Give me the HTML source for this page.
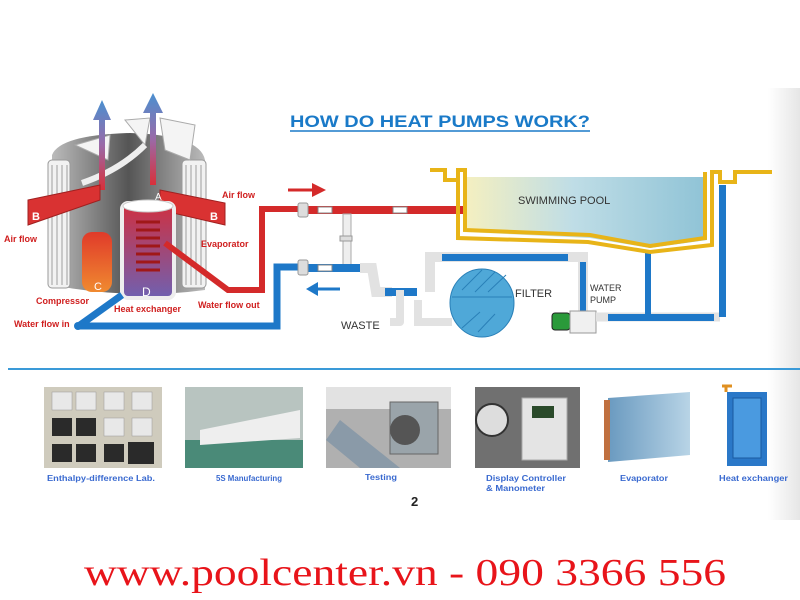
<!DOCTYPE html>
<html><head><meta charset="utf-8"><style>
html,body{margin:0;padding:0;background:#fff;width:800px;height:600px;overflow:hidden}
svg{display:block}
</style></head><body>
<svg width="800" height="600" viewBox="0 0 800 600" xmlns="http://www.w3.org/2000/svg" font-family="Liberation Sans, sans-serif">
<defs>
<linearGradient id="pool" x1="0" x2="1"><stop offset="0" stop-color="#f6f0bf"/><stop offset="0.45" stop-color="#bfdde6"/><stop offset="1" stop-color="#8fc3d6"/></linearGradient>
<linearGradient id="side" x1="0" x2="1"><stop offset="0" stop-color="#fff"/><stop offset="1" stop-color="#e6e6e6"/></linearGradient>
<linearGradient id="arr" x1="0" y1="1" x2="0" y2="0"><stop offset="0" stop-color="#d8303a"/><stop offset="0.5" stop-color="#9a6aa8"/><stop offset="1" stop-color="#4a90d0"/></linearGradient>
<linearGradient id="comp" x1="0" y1="0" x2="0" y2="1"><stop offset="0" stop-color="#e03a2a"/><stop offset="1" stop-color="#f08a30"/></linearGradient>
<linearGradient id="cyl" x1="0" x2="1"><stop offset="0" stop-color="#bbb"/><stop offset="0.5" stop-color="#555"/><stop offset="1" stop-color="#bbb"/></linearGradient>
<linearGradient id="hx" x1="0" y1="0" x2="0" y2="1"><stop offset="0" stop-color="#d03040"/><stop offset="1" stop-color="#7060b0"/></linearGradient>
<linearGradient id="evap" x1="0" x2="1"><stop offset="0" stop-color="#6a9ac0"/><stop offset="1" stop-color="#b8d4e6"/></linearGradient>
</defs>
<rect x="768" y="88" width="32" height="432" fill="url(#side)"/>
<!-- title -->
<text x="290" y="127" font-size="17" font-weight="bold" fill="#1a7ac8" textLength="300" lengthAdjust="spacingAndGlyphs">HOW DO HEAT PUMPS WORK?</text>
<line x1="290" y1="131" x2="590" y2="131" stroke="#1a7ac8" stroke-width="1.5"/>
<!-- heat pump unit -->
<g>
<path d="M52 155 Q60 135 130 133 Q200 135 205 160 L205 290 Q130 300 52 285 Z" fill="url(#cyl)"/>
<g stroke="#999" stroke-width="1" fill="#f2f2f2">
<rect x="48" y="160" width="22" height="128" rx="4"/>
<rect x="182" y="160" width="24" height="128" rx="4"/>
</g>
<g stroke="#888" stroke-width="0.8">
<line x1="52" y1="165" x2="52" y2="285"/><line x1="57" y1="165" x2="57" y2="285"/><line x1="62" y1="165" x2="62" y2="285"/><line x1="67" y1="165" x2="67" y2="285"/>
<line x1="186" y1="165" x2="186" y2="285"/><line x1="191" y1="165" x2="191" y2="285"/><line x1="196" y1="165" x2="196" y2="285"/><line x1="201" y1="165" x2="201" y2="285"/>
</g>
<path d="M75 145 L110 135 L108 160 Z M160 118 L195 125 L190 160 L165 150 Z M125 120 L150 118 L145 145 Z" fill="#f4f4f4" stroke="#aaa"/>
<path d="M82 183 Q120 170 145 145" stroke="#eee" stroke-width="6" fill="none"/>
<path d="M99 190 L99 120 L93 120 L102 100 L111 120 L105 120 L105 190 Z" fill="url(#arr)"/>
<path d="M150 185 L150 113 L143 113 L153 93 L163 113 L156 113 L156 185 Z" fill="url(#arr)"/>
<path d="M28 200 L100 185 L100 200 L28 225 Z" fill="#d93232" stroke="#a02020"/>
<text x="32" y="220" font-size="11" font-weight="bold" fill="#fff">B</text>
<path d="M160 190 L225 203 L225 225 L160 210 Z" fill="#d93232" stroke="#a02020"/>
<text x="210" y="220" font-size="11" font-weight="bold" fill="#fff">B</text>
<text x="155" y="200" font-size="10" fill="#fff">A</text>
<rect x="82" y="232" width="30" height="60" rx="10" fill="url(#comp)"/>
<text x="94" y="290" font-size="11" fill="#fff">C</text>
<rect x="122" y="203" width="52" height="95" rx="6" fill="url(#hx)" stroke="#eee" stroke-width="4"/>
<ellipse cx="148" cy="206" rx="25" ry="6" fill="#fff" stroke="#ccc"/>
<g stroke="#a01818" stroke-width="3" fill="none"><path d="M136 222 h24 M136 230 h24 M136 238 h24 M136 246 h24 M136 254 h24 M136 262 h24 M136 270 h24"/></g>
<text x="142" y="296" font-size="12" fill="#fff">D</text>
<path d="M165 243 L228 290 L262 290 L262 209 L300 209" stroke="#d42a2a" stroke-width="6" fill="none"/>
<path d="M80 325 L122 295 M78 326 L277 326 L277 267 L300 267" stroke="#1e78c8" stroke-width="7" fill="none"/>
<circle cx="78" cy="326" r="4" fill="#1e78c8"/>
<g font-size="9" fill="#d02020" font-weight="bold">
<text x="222" y="198">Air flow</text>
<text x="4" y="242">Air flow</text>
<text x="201" y="247">Evaporator</text>
<text x="36" y="304">Compressor</text>
<text x="114" y="312">Heat exchanger</text>
<text x="198" y="308">Water flow out</text>
<text x="14" y="327">Water flow in</text>
</g>
</g>
<!-- arrows -->
<path d="M288 190 L318 190" stroke="#d42a2a" stroke-width="3"/><path d="M312 183 L326 190 L312 197 Z" fill="#d42a2a"/>
<path d="M312 289 L340 289" stroke="#1e78c8" stroke-width="3"/><path d="M306 289 L318 282 L318 296 Z" fill="#1e78c8"/>
<!-- red hot pipe -->
<rect x="300" y="206" width="163" height="8" fill="#d42a2a"/>
<rect x="298" y="203" width="10" height="14" rx="2" fill="#ddd" stroke="#999"/>
<rect x="318" y="207" width="14" height="6" fill="#fff" stroke="#888"/>
<rect x="393" y="207" width="14" height="6" fill="#fff" stroke="#888"/>
<rect x="343" y="214" width="8" height="52" fill="#eee" stroke="#aaa"/>
<rect x="340" y="236" width="12" height="5" fill="#ddd" stroke="#999"/>
<!-- blue return pipe -->
<rect x="300" y="264" width="60" height="8" fill="#1e78c8"/>
<rect x="298" y="260" width="10" height="15" rx="2" fill="#ddd" stroke="#999"/>
<rect x="318" y="265" width="14" height="6" fill="#fff" stroke="#888"/>
<path d="M360 268 L372 268 L376 292 L392 292" stroke="#e2e2e2" stroke-width="10" fill="none"/>
<rect x="385" y="288" width="32" height="8" fill="#1e78c8"/>
<path d="M400 290 L400 322 L390 322" stroke="#e2e2e2" stroke-width="8" fill="none" stroke-linejoin="round"/>
<text x="341" y="329" font-size="11" fill="#333">WASTE</text>
<!-- filter piping -->
<path d="M430 292 L430 257 L583 257 L583 312" stroke="#e2e2e2" stroke-width="10" fill="none"/>
<rect x="442" y="254" width="126" height="7" fill="#1e78c8"/>
<rect x="580" y="262" width="6" height="50" fill="#1e78c8"/>
<path d="M418 300 L418 322 L452 322" stroke="#e2e2e2" stroke-width="8" fill="none"/>
<ellipse cx="482" cy="303" rx="32" ry="34" fill="#4fa8d8" stroke="#2a80b8"/>
<g stroke="#2a80b8" stroke-width="1"><line x1="462" y1="290" x2="482" y2="270"/><line x1="475" y1="292" x2="495" y2="272"/><line x1="488" y1="292" x2="506" y2="275"/><line x1="462" y1="328" x2="480" y2="312"/><line x1="478" y1="332" x2="495" y2="314"/></g>
<line x1="452" y1="297" x2="512" y2="297" stroke="#2a80b8"/>
<text x="515" y="297" font-size="11" fill="#333">FILTER</text>
<text x="590" y="291" font-size="9" fill="#333">WATER</text>
<text x="590" y="303" font-size="9" fill="#333">PUMP</text>
<!-- pump -->
<rect x="552" y="313" width="18" height="17" rx="3" fill="#2a9a3a" stroke="#222"/>
<rect x="570" y="311" width="26" height="22" fill="#f0f0f0" stroke="#999"/>
<path d="M596 317 L720 317" stroke="#e2e2e2" stroke-width="9"/>
<rect x="608" y="314" width="106" height="7" fill="#1e78c8"/>
<rect x="645" y="250" width="6" height="67" fill="#1e78c8"/>
<rect x="719" y="185" width="7" height="132" fill="#1e78c8"/>
<!-- pool -->
<path d="M463 177 L707 177 L707 240 L650 248 L590 238 L463 232 Z" fill="url(#pool)"/>
<path d="M430 170 L445 170 L445 180 L458 180 L458 170 L465 170 L465 230 L590 235 L650 246 L705 238 L705 172 M712 170 L712 245 L650 252 L588 242 L458 238 L458 180" stroke="#e8b418" stroke-width="4" fill="none"/>
<path d="M712 172 L720 172 L720 182 L735 182 L735 172 L772 172" stroke="#e8b418" stroke-width="4" fill="none"/>
<text x="518" y="204" font-size="11" fill="#333">SWIMMING POOL</text>
<!-- separator -->
<line x1="8" y1="369" x2="800" y2="369" stroke="#3a9ad8" stroke-width="2"/>
<!-- photos -->
<rect x="44" y="387" width="118" height="81" fill="#cfcbbd"/>
<g fill="#e8e8e8" stroke="#999" stroke-width="0.5"><rect x="52" y="392" width="20" height="18"/><rect x="76" y="392" width="20" height="18"/><rect x="104" y="392" width="20" height="18"/><rect x="132" y="392" width="20" height="18"/><rect x="104" y="418" width="20" height="18"/><rect x="132" y="418" width="20" height="18"/></g>
<g fill="#2a2a2a"><rect x="52" y="418" width="20" height="18"/><rect x="76" y="418" width="20" height="18"/><rect x="52" y="444" width="20" height="18"/><rect x="76" y="444" width="20" height="18"/><rect x="104" y="444" width="20" height="18"/><rect x="128" y="442" width="26" height="22"/></g>
<rect x="185" y="387" width="118" height="81" fill="#b8c4c0"/>
<path d="M185 440 L303 440 L303 468 L185 468 Z" fill="#4a8a78"/>
<path d="M200 430 L300 410 L300 438 L200 445 Z" fill="#eee"/>
<rect x="326" y="387" width="125" height="81" fill="#b0b0b0"/>
<rect x="326" y="387" width="125" height="22" fill="#e2e2e2"/>
<path d="M326 440 L360 468 L400 468 L340 420 Z" fill="#8a9aa8"/>
<rect x="390" y="402" width="48" height="52" fill="#9aa4aa" stroke="#666"/>
<circle cx="405" cy="430" r="15" fill="#555"/>
<rect x="475" y="387" width="105" height="81" fill="#707070"/>
<circle cx="492" cy="420" r="16" fill="#ddd" stroke="#333" stroke-width="2"/>
<rect x="522" y="398" width="45" height="62" fill="#e4e4e4" stroke="#aaa"/>
<rect x="532" y="406" width="22" height="12" fill="#2a4a2a"/>
<path d="M608 398 L690 392 L690 455 L608 462 Z" fill="url(#evap)"/>
<rect x="604" y="400" width="6" height="60" fill="#c07040"/>
<rect x="727" y="392" width="40" height="74" fill="#2a78c8"/>
<rect x="733" y="398" width="28" height="60" fill="#4a9ae0" stroke="#1a5aa0"/>
<path d="M726 385 L726 392 M722 386 L732 386" stroke="#e09020" stroke-width="3"/>
<g fill="#3a6ad0" font-size="8.5" font-weight="bold">
<text x="47" y="481" textLength="108" lengthAdjust="spacingAndGlyphs">Enthalpy-difference Lab.</text>
<text x="216" y="481" textLength="66" lengthAdjust="spacingAndGlyphs">5S Manufacturing</text>
<text x="365" y="480" textLength="32" lengthAdjust="spacingAndGlyphs">Testing</text>
<text x="486" y="481" textLength="80" lengthAdjust="spacingAndGlyphs">Display Controller</text>
<text x="486" y="491" textLength="59" lengthAdjust="spacingAndGlyphs">&amp; Manometer</text>
<text x="620" y="481" textLength="48" lengthAdjust="spacingAndGlyphs">Evaporator</text>
<text x="719" y="481" textLength="69" lengthAdjust="spacingAndGlyphs">Heat exchanger</text>
</g>
<text x="411" y="506" font-size="13" font-weight="bold" fill="#222">2</text>
<!-- footer -->
<text x="84" y="585" font-size="38" fill="#e8141a" style="font-family:'Liberation Serif',serif" textLength="642" lengthAdjust="spacingAndGlyphs">www.poolcenter.vn - 090 3366 556</text>
</svg>
</body></html>
